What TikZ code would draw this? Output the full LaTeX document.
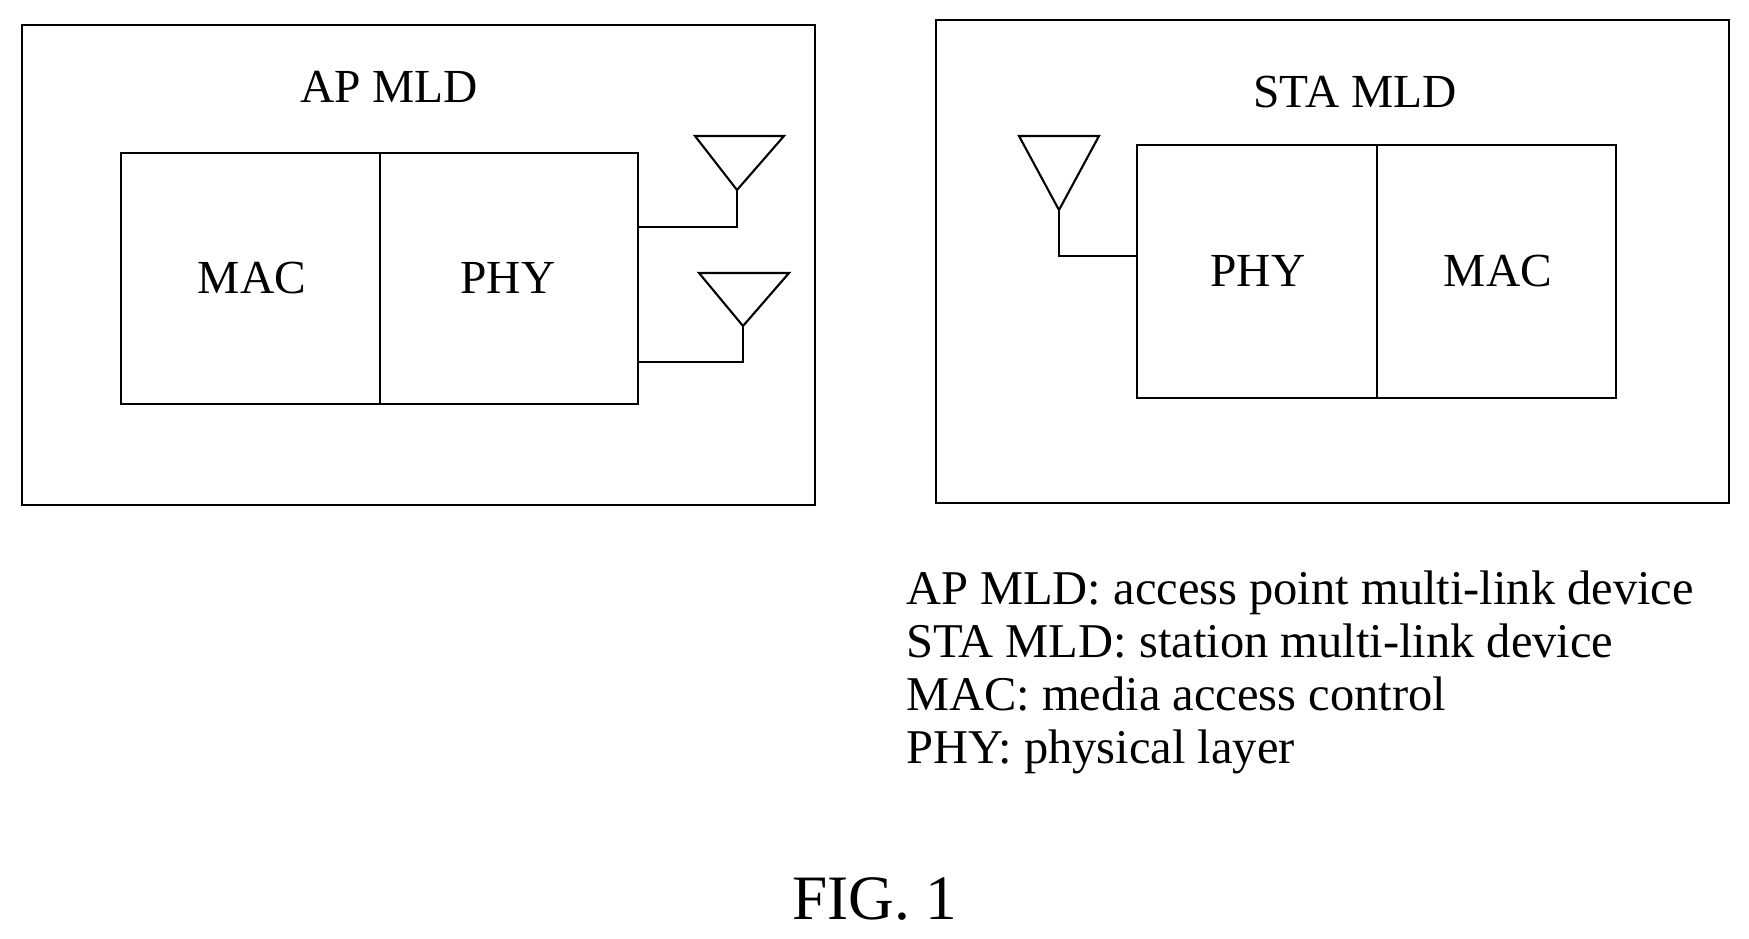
\documentclass[tikz,border=0pt]{standalone}
\usepackage{fontspec}
\setmainfont{Liberation Serif}
\usetikzlibrary{positioning}
\begin{document}
\begin{tikzpicture}[x=0.02cm, y=-0.02cm, line width=1.2pt,
  txt/.style={font=\fontsize{27}{32}\selectfont, inner sep=0pt},
  blk/.style={draw, line width=1.2pt}]
\useasboundingbox (0,0) rectangle (1749,939);

% AP MLD
\draw[blk] (22,25) rectangle (815,505);
\node[txt] (aptitle) at (389,87) {AP MLD};
\draw[blk] (121,153) rectangle (638,404);
\draw (380,153) -- (380,404);
\node[txt] (apmac) at (252,278) {MAC};
\node[txt] (apphy) at (508,278) {PHY};
\draw (695,136) -- (784,136) -- (737,190) -- cycle;
\draw (737,190) -- (737,227) -- (638,227);
\draw (699,273) -- (789,273) -- (743,326) -- cycle;
\draw (743,326) -- (743,362) -- (638,362);

% STA MLD
\draw[blk] (936,20) rectangle (1729,503);
\node[txt] (statitle) at (1355,92) {STA MLD};
\draw[blk] (1137,145) rectangle (1616,398);
\draw (1377,145) -- (1377,398);
\node[txt] (staphy) at (1258,271) {PHY};
\node[txt] (stamac) at (1498,271) {MAC};
\draw (1019,136) -- (1099,136) -- (1059,210) -- cycle;
\draw (1059,210) -- (1059,256) -- (1137,256);

% legend
\node[txt, anchor=north west, align=left, font=\fontsize{27.6}{30.2}\selectfont]
  (legend) at (905,570) {AP MLD: access point multi-link device\\
  STA MLD: station multi-link device\\
  MAC: media access control\\
  PHY: physical layer};
\node[txt, font=\fontsize{36}{40}\selectfont] (fig) at (875,899) {FIG. 1};
\end{tikzpicture}
\end{document}
